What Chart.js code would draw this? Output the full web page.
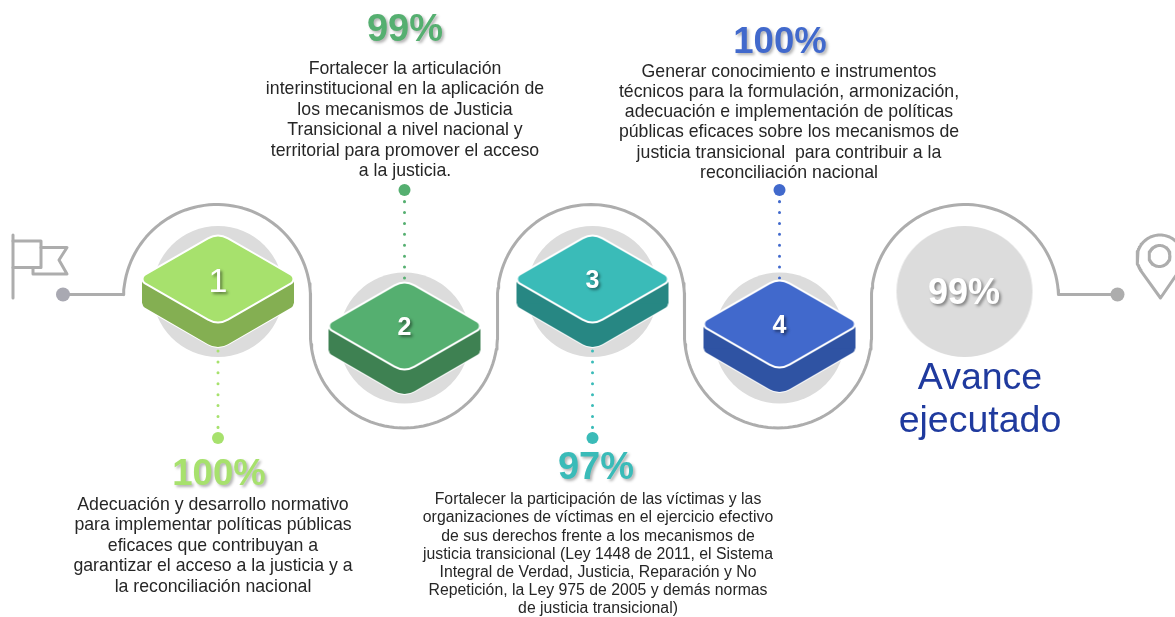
<!DOCTYPE html>
<html lang="es">
<head>
<meta charset="utf-8">
<style>html,body{margin:0;padding:0;background:#fff}canvas{display:block}</style>
<script src="https://cdn.jsdelivr.net/npm/chart.js@4"></script>
</head>
<body>
<canvas id="c" width="1175" height="617"></canvas>
<script>
// ---- data ----
const pasos = ['1', '2', '3', '4'];
const avances = [100, 99, 97, 100];
const avanceTotal = 99;
const tituloTotal = ['Avance', 'ejecutado'];
const objetivo1 = ['Adecuación y desarrollo normativo', 'para implementar políticas públicas', 'eficaces que contribuyan a', 'garantizar el acceso a la justicia y a', 'la reconciliación nacional'];
const objetivo2 = ['Fortalecer la articulación', 'interinstitucional en la aplicación de', 'los mecanismos de Justicia', 'Transicional a nivel nacional y', 'territorial para promover el acceso', 'a la justicia.'];
const objetivo3 = ['Fortalecer la participación de las víctimas y las', 'organizaciones de víctimas en el ejercicio efectivo', 'de sus derechos frente a los mecanismos de', 'justicia transicional (Ley 1448 de 2011, el Sistema', 'Integral de Verdad, Justicia, Reparación y No', 'Repetición, la Ley 975 de 2005 y demás normas', 'de justicia transicional)'];
const objetivo4 = ['Generar conocimiento e instrumentos', 'técnicos para la formulación, armonización,', 'adecuación e implementación de políticas', 'públicas eficaces sobre los mecanismos de', 'justicia transicional  para contribuir a la', 'reconciliación nacional'];

// ---- layout and style (separate from the values) ----
const colorCara = ['#A7E16D', '#55AF70', '#3ABBB8', '#4169CC'];
const colorLado = ['#84AF52', '#3E8152', '#278783', '#2F53A3'];
const GRIS = '#ADADAD', CIRCULO = '#DCDCDC', AZUL = '#1F3A9E', TEXTO = '#262626';
const nodoX = [218, 404.5, 592.5, 779.5];
const circuloY = [291.5, 338, 291.5, 338];
const caraY = [279, 326, 279, 324];
const finPuntos = [[351, 428, 438], [278, 201, 190], [351, 428, 438], [278, 201, 190]];
const pctPos = [[219, 475], [405, 31], [596, 469], [780, 43]];
const textoPos = [
  {x: 213, y: 505, paso: 20.5, size: 17.7},
  {x: 405, y: 69, paso: 20.5, size: 17.7},
  {x: 598, y: 500, paso: 18.1, size: 15.8},
  {x: 789, y: 72, paso: 20.2, size: 17.7}
];
const objetivos = [objetivo1, objetivo2, objetivo3, objetivo4];
const FUENTE = '"Liberation Sans", Arial, sans-serif';

function arco(cx, cy, r, a0, a1) {
  const pts = [], n = Math.max(8, Math.ceil(Math.abs(a1 - a0) / 3));
  for (let i = 0; i <= n; i++) {
    const a = (a0 + (a1 - a0) * i / n) * Math.PI / 180;
    pts.push({x: cx + r * Math.cos(a), y: cy + r * Math.sin(a)});
  }
  return pts;
}
const R = 93.5, Yalto = 298, Ybajo = 334.5;
const ruta = [
  {x: 63, y: 294.5}, {x: 123.6, y: 294.5},
  ...arco(217, Yalto, R, 182.1, 360),
  ...arco(404, Ybajo, R, 180, 0),
  ...arco(591, Yalto, R, 180, 360),
  ...arco(778, Ybajo, R, 180, 0),
  ...arco(965, Yalto, R, 180, 357.9),
  {x: 1117, y: 294.5}
];
const poste = [{x: 13, y: 235}, {x: 13, y: 298}];
const bandera1 = [{x: 13, y: 241}, {x: 41, y: 241}, {x: 41, y: 267.5}, {x: 13, y: 267.5}];
const bandera2 = [{x: 41, y: 247.5}, {x: 67, y: 247.5}, {x: 59, y: 260}, {x: 67, y: 274}, {x: 33, y: 274}, {x: 33, y: 267.5}];
const pinAro = arco(1159.5, 256, 10.5, 0, 360);
const pinCabeza = [{x: 1160.5, y: 298}, ...arco(1160, 258, 23, 34, -214), {x: 1160.5, y: 298}];

function rombo(g, cx, cy, w, h, rV, rH) {
  g.beginPath();
  g.moveTo(cx + w / 2, cy - h / 2);
  g.arcTo(cx + w, cy, cx, cy + h, rH);
  g.arcTo(cx, cy + h, cx - w, cy, rV);
  g.arcTo(cx - w, cy, cx, cy - h, rH);
  g.arcTo(cx, cy - h, cx + w, cy, rV);
  g.closePath();
}
function prisma(cara, lado) {
  const c = document.createElement('canvas');
  c.width = 190; c.height = 190;
  const g = c.getContext('2d'), cx = 95, cy = 95, w = 80.5, h = 46.5, d = 24.5;
  g.lineJoin = 'round';
  rombo(g, cx, cy + d, w, h, 20, 5);
  g.fillStyle = lado; g.strokeStyle = '#fff'; g.lineWidth = 2;
  g.stroke(); g.fill();
  g.fillRect(cx - 76, cy, 152, d);
  rombo(g, cx, cy, w, h, 20, 5);
  g.fillStyle = cara; g.lineWidth = 2;
  g.fill(); g.stroke();
  return c;
}
function elipse(rx, ry, color) {
  const c = document.createElement('canvas');
  c.width = rx * 2 + 2; c.height = ry * 2 + 2;
  const g = c.getContext('2d');
  g.fillStyle = color;
  g.beginPath(); g.ellipse(rx + 1, ry + 1, rx, ry, 0, 0, Math.PI * 2); g.fill();
  return c;
}

const linea = (data, color, width, extra) => Object.assign({
  type: 'scatter', data, showLine: true, fill: false, tension: 0,
  borderColor: color, borderWidth: width, pointRadius: 0,
  borderCapStyle: 'round', borderJoinStyle: 'round'
}, extra || {});
const punto = (x, y, style, radius, color) => ({
  type: 'scatter', data: [{x, y}], showLine: false, pointStyle: style,
  pointRadius: radius, pointBackgroundColor: color, pointBorderWidth: 0, pointBorderColor: color
});

const capas = [
  linea(ruta, GRIS, 3),
  linea(poste, GRIS, 3), linea(bandera1, GRIS, 3), linea(bandera2, GRIS, 3),
  linea(pinCabeza, GRIS, 3), linea(pinAro, GRIS, 3),
  punto(63, 294.5, 'circle', 7, '#A9A9B2'),
  punto(1117.5, 294.5, 'circle', 7, GRIS),
  punto(964.5, 291.5, elipse(68, 65.5, CIRCULO), 10, CIRCULO)
];
pasos.forEach((p, i) => {
  capas.push(punto(nodoX[i], circuloY[i], 'circle', 65.5, CIRCULO));
  capas.push(linea([{x: nodoX[i], y: finPuntos[i][0]}, {x: nodoX[i], y: finPuntos[i][1]}], colorCara[i], 3,
    {borderDash: [0.01, 10.9]}));
  capas.push(punto(nodoX[i], finPuntos[i][2], 'circle', 6, colorCara[i]));
  capas.push(punto(nodoX[i], caraY[i], prisma(colorCara[i], colorLado[i]), 10, colorCara[i]));
});
capas.forEach((d, i) => { d.order = capas.length - i; d.label = 'capa' + i; });

const textos = {
  id: 'textos',
  afterDatasetsDraw(chart) {
    const g = chart.ctx, X = v => chart.scales.x.getPixelForValue(v), Y = v => chart.scales.y.getPixelForValue(v);
    g.save();
    g.textAlign = 'center'; g.textBaseline = 'middle';
    const conSombra = (txt, x, y, font, color, alpha) => {
      g.save();
      g.font = font; g.fillStyle = color;
      g.shadowColor = 'rgba(0,0,0,' + alpha + ')';
      g.shadowBlur = 3; g.shadowOffsetX = 2; g.shadowOffsetY = 2;
      g.fillText(txt, X(x), Y(y));
      g.restore();
    };
    pasos.forEach((p, i) => {
      const f = p === '1' ? 'normal 34px ' + FUENTE : 'bold 25px ' + FUENTE;
      conSombra(p, nodoX[i], caraY[i] + (i === 0 ? 4 : 2), f, '#fff', 0.45);
      const tam = avances[i] >= 100 ? 36.5 : 38;
      conSombra(avances[i] + '%', pctPos[i][0], pctPos[i][1], 'bold ' + tam + 'px ' + FUENTE, colorCara[i], 0.3);
      const t = textoPos[i];
      g.font = t.size + 'px ' + FUENTE; g.fillStyle = TEXTO;
      objetivos[i].forEach((l, k) => g.fillText(l, X(t.x), Y(t.y + k * t.paso)));
    });
    conSombra(avanceTotal + '%', 964, 294, 'bold 36px ' + FUENTE, '#fff', 0.4);
    g.font = '37.5px ' + FUENTE; g.fillStyle = AZUL;
    g.fillText(tituloTotal[0], X(980), Y(379));
    g.fillText(tituloTotal[1], X(980), Y(422));
    g.restore();
  }
};

new Chart(document.getElementById('c'), {
  type: 'scatter',
  data: {datasets: capas},
  options: {
    responsive: false, animation: false, events: [],
    layout: {padding: 0, autoPadding: false},
    plugins: {legend: {display: false}, tooltip: {enabled: false}, title: {display: false}},
    scales: {
      x: {type: 'linear', display: false, min: 0, max: 1175},
      y: {type: 'linear', display: false, min: 0, max: 617, reverse: true}
    }
  },
  plugins: [textos]
});
</script>
</body>
</html>
